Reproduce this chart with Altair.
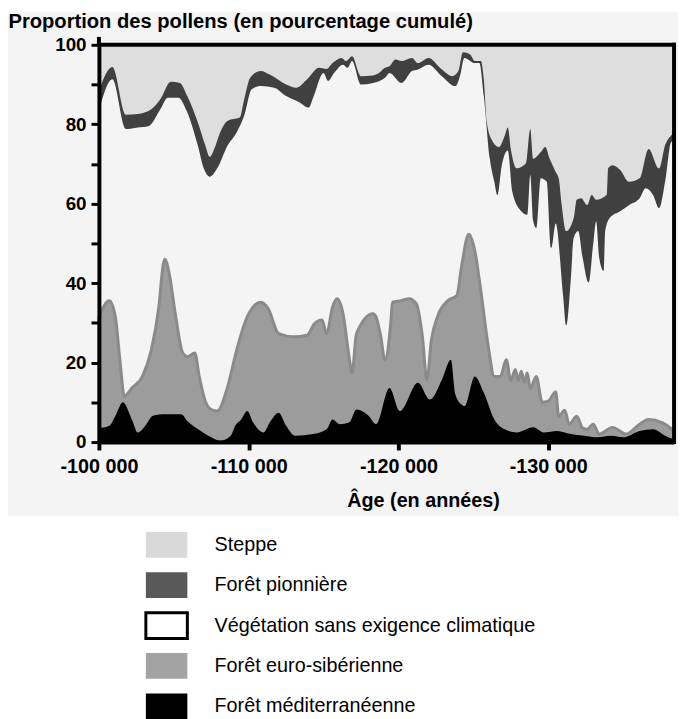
import altair as alt
import pandas as pd

# ---------------- data (cumulative percentages) ----------------
series = [
    "Steppe",
    "Forêt pionnière",
    "Végétation sans exigence climatique",
    "Forêt euro-sibérienne",
    "Forêt méditerranéenne",
]
legend_fill = ["#d9d9d9", "#595959", "#ffffff", "#a3a3a3", "#000000"]
legend_stroke = ["transparent", "transparent", "#000000", "transparent", "transparent"]

# top of the stack (steppe reaches 100 %)
steppe_age = [-100000, -138400]
steppe_cumul = [100, 100]

# upper limit of "Forêt pionnière" (= lower limit of Steppe)
pionniere_age = [
    -100000, -100900, -101800, -102600, -103500, -104100, -104800, -105400, -105900, -106600,
    -107100, -107400, -107700, -108100, -108600, -109400, -109700, -110100, -110800, -111400,
    -112500, -113200, -113900, -114700, -115200, -115600, -116200, -116500, -116900, -117500,
    -118300, -118700, -119100, -119400, -119800, -120200, -120900, -121300, -122000, -122900,
    -123600, -124000, -124300, -124800, -125100, -125500, -125700, -125900, -126200, -126700,
    -127100, -127300, -127500, -127900, -128500, -128800, -129000, -129500, -129800, -130100,
    -130500, -130700, -130900, -131200, -131700, -131900, -132200, -132600, -132900, -133200,
    -133900, -134000, -134300, -134800, -135400, -136100, -136700, -137400, -137800, -138200,
    -138400,
]
pionniere_cumul = [
    88.5, 94.4, 82.4, 82.6, 83.8, 86.3, 90.7, 90.4, 87.1, 80.5,
    74.7, 71.8, 73.8, 78.0, 80.9, 81.7, 86.3, 91.7, 93.4, 92.5,
    90.0, 89.2, 91.3, 94.2, 93.9, 95.4, 96.7, 95.9, 97.1, 92.1,
    92.3, 92.9, 94.2, 94.6, 96.3, 95.9, 96.7, 95.4, 96.7, 93.8,
    92.1, 93.4, 98.1, 97.5, 95.9, 95.9, 91.3, 80.5, 76.3, 74.3,
    77.2, 79.2, 73.8, 68.9, 70.1, 78.8, 71.3, 73.0, 74.3, 71.3,
    68.0, 66.4, 59.7, 53.1, 56.4, 61.0, 61.4, 59.7, 62.2, 61.0,
    62.2, 68.9, 69.7, 68.5, 65.5, 66.4, 73.8, 68.9, 74.7, 77.2,
    78.0,
]

# upper limit of "Végétation sans exigence climatique"
vegetation_age = [
    -100000, -100900, -101800, -102600, -103300, -104100, -104600, -105300, -105900, -106600,
    -107000, -107400, -107900, -108600, -109200, -109700, -110200, -110800, -111700, -112500,
    -113400, -114000, -114300, -115000, -115300, -115700, -116300, -116600, -116900, -117500,
    -118300, -119100, -119400, -120200, -120900, -121300, -122000, -122900, -123800, -124100,
    -124400, -125100, -125400, -125700, -126100, -126400, -126600, -126900, -127300, -127600,
    -128200, -128600, -128800, -129000, -129200, -129500, -129900, -130200, -130500, -131000,
    -131200, -131500, -131700, -132000, -132300, -132700, -133000, -133200, -133400, -133700,
    -133800, -134100, -134800, -135400, -136100, -136500, -137000, -137400, -137800, -138200,
    -138400,
]
vegetation_cumul = [
    83.5, 91.3, 78.8, 79.2, 79.5, 83.8, 86.7, 86.7, 83.0, 74.7,
    68.9, 66.8, 68.9, 74.7, 78.0, 82.2, 88.8, 89.6, 89.2, 87.1,
    85.5, 84.2, 86.7, 92.9, 90.9, 92.9, 95.0, 94.2, 95.9, 90.0,
    90.4, 91.7, 92.9, 90.4, 93.4, 93.8, 95.0, 92.1, 89.6, 92.1,
    96.7, 95.4, 95.4, 87.1, 71.3, 65.5, 62.2, 69.7, 73.4, 63.0,
    58.1, 57.2, 67.2, 55.6, 53.9, 66.4, 65.5, 48.9, 55.0, 36.5,
    29.4, 40.6, 51.4, 53.1, 46.4, 40.2, 49.8, 55.6, 46.4, 43.1,
    53.1, 56.4, 58.1, 59.7, 61.4, 63.9, 62.2, 58.9, 65.5, 75.5,
    76.0,
]

# upper limit of "Forêt euro-sibérienne"
euro_age = [
    -100000, -100700, -101100, -101400, -101700, -102200, -102900, -103500, -104000, -104300,
    -104400, -104700, -105100, -105600, -105900, -106400, -106700, -107100, -107500, -107900,
    -108600, -109200, -109900, -110800, -111300, -112000, -113000, -113900, -114400, -114900,
    -115200, -115600, -115900, -116300, -116700, -116900, -117200, -118300, -118500, -118800,
    -119100, -119500, -119600, -120200, -120700, -121200, -121600, -121900, -122200, -122600,
    -123300, -123900, -124200, -124700, -125100, -125500, -126000, -126400, -126800, -127200,
    -127500, -127800, -128000, -128200, -128400, -128600, -128800, -129200, -129600, -130000,
    -130500, -130700, -131100, -131400, -131900, -132300, -132600, -133000, -133400, -134300,
    -135200, -136100, -136700, -137600, -138400,
]
euro_cumul = [
    31.5, 35.6, 31.5, 20.7, 11.5, 13.6, 16.5, 23.2, 34.0, 44.8,
    46.0, 42.3, 32.3, 22.4, 21.5, 22.4, 16.5, 10.3, 8.2, 7.8,
    14.0, 23.2, 31.5, 35.2, 33.6, 27.3, 26.5, 26.9, 29.8, 30.7,
    27.3, 34.0, 36.1, 32.3, 21.5, 17.4, 27.3, 32.3, 31.5, 27.0,
    20.7, 30.7, 35.2, 35.6, 36.1, 34.8, 26.5, 15.7, 25.7, 31.5,
    35.6, 36.9, 43.9, 52.3, 48.1, 38.1, 24.0, 16.5, 16.5, 20.7,
    15.5, 18.3, 15.5, 17.8, 15.0, 17.4, 13.5, 16.5, 10.0, 10.3,
    12.6, 6.5, 8.0, 4.5, 6.5, 3.5, 3.2, 4.5, 2.0, 3.7,
    2.0, 4.5, 5.7, 4.9, 2.8,
]

# upper limit of "Forêt méditerranéenne"
medit_age = [
    -100000, -100700, -101100, -101600, -102200, -102600, -103100, -103600, -104200, -105500,
    -105900, -106800, -107500, -108100, -108800, -109100, -109500, -109900, -110300, -111000,
    -111400, -112000, -112500, -113100, -114300, -115200, -115600, -116100, -116700, -117200,
    -118000, -118500, -119400, -120100, -121300, -122100, -122900, -123500, -123800, -124200,
    -124400, -125100, -125700, -126400, -127100, -127900, -129000, -129700, -130600, -131500,
    -132400, -133300, -134200, -135000, -136100, -137000, -137800, -138400,
]
medit_cumul = [
    3.5, 4.1, 6.6, 10.0, 5.7, 2.4, 4.1, 6.6, 7.0, 7.0,
    5.3, 2.8, 1.2, 0.3, 1.6, 4.1, 5.7, 7.8, 4.9, 2.4,
    4.9, 7.4, 4.1, 1.6, 2.0, 3.2, 5.7, 4.5, 4.9, 8.2,
    6.6, 4.5, 13.6, 7.8, 14.9, 10.7, 15.7, 20.7, 12.0, 9.5,
    9.0, 16.5, 12.4, 5.7, 3.2, 2.4, 3.7, 2.4, 2.8, 2.0,
    1.6, 1.2, 1.6, 1.2, 2.8, 3.2, 1.6, 0.7,
]

x_domain = [-138400, -100000]
x_ticks = [-100000, -110000, -120000, -130000]
y_ticks = [0, 10, 20, 30, 40, 50, 60, 70, 80, 90, 100]

# ---------------- styles ----------------
FONT = "Liberation Sans"
W, H = 582, 402

xscale = alt.Scale(domain=x_domain, reverse=True, nice=False, zero=False)
yscale = alt.Scale(domain=[0, 100], nice=False)

xaxis = alt.Axis(
    values=x_ticks,
    labelExpr="'-' + replace(format(-datum.value, ','), ',', ' ')",
    title="Âge (en années)",
    titleFont=FONT, titleFontSize=20, titleFontWeight="bold", titleColor="black",
    titleX=328, titleY=65, titleAlign="center", titleBaseline="alphabetic",
    labelFont=FONT, labelFontSize=20, labelFontWeight="bold", labelColor="black",
    labelPadding=7, labelFlush=False, labelOverlap=False,
    tickColor="black", tickWidth=4, tickSize=8,
    domainColor="black", domainWidth=4, grid=False, zindex=1,
)
yaxis = alt.Axis(
    values=y_ticks,
    labelExpr="datum.value % 20 == 0 ? datum.label : ''",
    title="Proportion des pollens (en pourcentage cumulé)",
    titleFont=FONT, titleFontSize=20.4, titleFontWeight="bold", titleColor="black",
    titleAngle=0, titleAlign="left", titleBaseline="alphabetic",
    titleX=-92, titleY=-18,
    labelFont=FONT, labelFontSize=19, labelFontWeight="bold", labelColor="black",
    labelPadding=5, labelOverlap=False,
    tickColor="black", tickWidth=3, tickSize=8,
    domainColor="black", domainWidth=4, grid=False, zindex=1,
)


def X():
    return alt.X("age:Q", scale=xscale, axis=xaxis)


def Y():
    return alt.Y("cumul:Q", scale=yscale, axis=yaxis, stack=None)


def area(ages, cumul, **mk):
    df = pd.DataFrame({"age": ages, "cumul": cumul})
    return alt.Chart(df).mark_area(interpolate="monotone", **mk).encode(x=X(), y=Y())


background = alt.Chart(pd.DataFrame({"k": [0]})).mark_rect(color="#f4f4f4").encode(
    x=alt.value(-92), x2=alt.value(W + 4), y=alt.value(-33), y2=alt.value(477)
)

steppe = area(steppe_age, steppe_cumul, color="#dedede")
pionniere = area(pionniere_age, pionniere_cumul, color="#404040")
vegetation = area(vegetation_age, vegetation_cumul, color="#f4f4f4")
euro = area(euro_age, euro_cumul, fill="#9c9c9c", stroke="#8a8a8a", strokeWidth=3)
medit = area(medit_age, medit_cumul, color="#000000")

top_rule = alt.Chart(pd.DataFrame({"cumul": [100]})).mark_rule(
    color="black", strokeWidth=4, strokeCap="square"
).encode(y=Y())
right_rule = alt.Chart(pd.DataFrame({"age": [x_domain[0]]})).mark_rule(
    color="black", strokeWidth=4, strokeCap="square"
).encode(x=X())
# small extension of the y axis line above the frame
axis_stub = alt.Chart(pd.DataFrame({"age": [x_domain[1]], "cumul": [100]})).mark_rule(
    color="black", strokeWidth=4
).encode(x=X(), y=Y(), y2=alt.value(-8))

legend = alt.Legend(
    orient="none", legendX=54, legendY=491.5, direction="vertical", title=None,
    symbolType="M-1.615,-1H1.615V1H-1.615Z", symbolSize=676, symbolStrokeWidth=3,
    labelFont=FONT, labelFontSize=20, labelColor="black", labelOffset=34, labelLimit=500,
    rowPadding=1.85, padding=0, zindex=1,
)
legend_layer = alt.Chart(pd.DataFrame({"serie": series})).transform_filter("false").mark_square(
    filled=True, opacity=1, size=676, strokeWidth=3
).encode(
    fill=alt.Fill("serie:N", scale=alt.Scale(domain=series, range=legend_fill), legend=legend),
    stroke=alt.Stroke("serie:N", scale=alt.Scale(domain=series, range=legend_stroke), legend=legend),
)

chart = alt.layer(
    background, steppe, pionniere, vegetation, euro, medit, top_rule, right_rule, axis_stub,
    legend_layer,
).properties(
    width=W,
    height=H,
    autosize=alt.AutoSizeParams(type="none"),
    padding={"left": 92, "top": 33, "right": 4, "bottom": 276},
    background="white",
).configure_view(stroke="transparent")

chart.save("out.html", embed_options={"renderer": "svg", "actions": False})
